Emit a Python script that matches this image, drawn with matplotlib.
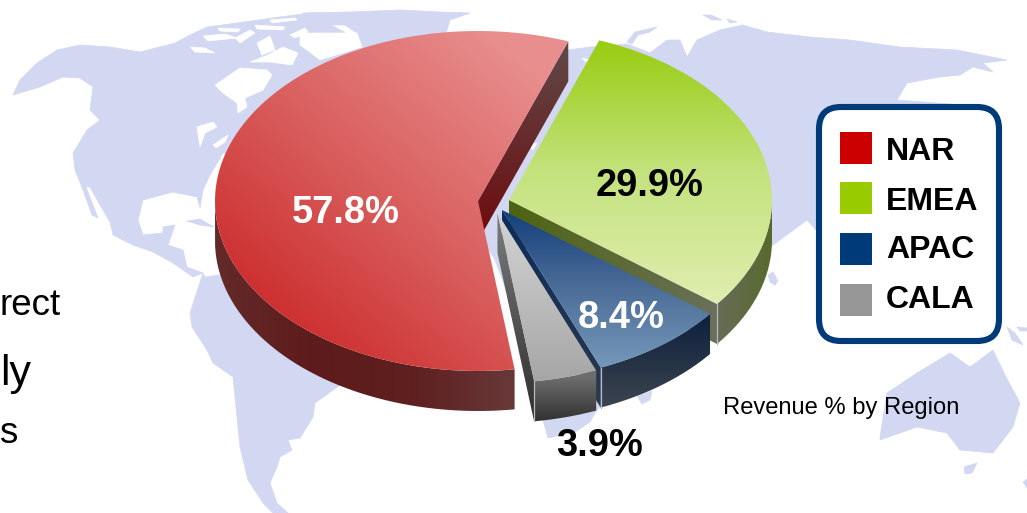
import numpy as np
import matplotlib
matplotlib.use('Agg')
import matplotlib.pyplot as plt
from matplotlib.colors import LinearSegmentedColormap
from matplotlib.patches import FancyBboxPatch, PathPatch, Polygon, Rectangle
from matplotlib.path import Path

regions = ['NAR', 'EMEA', 'APAC', 'CALA']
shares = [57.8, 29.9, 8.4, 3.9]
legend_colors = ['#cc0000', '#99cc00', '#003a78', '#969696']
caption = 'Revenue % by Region'
cut_off_text = ['rect', 'ly', 's']

W, H = 1027, 513
RX, RY, DEPTH = 263, 170, 40
START = 172
FONT = 'Liberation Sans'
MAP = '#d2d7f2'

centers = {'NAR': (478, 201), 'EMEA': (509, 200), 'APAC': (502, 210), 'CALA': (497.5, 213)}
label_pos = {'NAR': (346, 213, 'white'), 'EMEA': (650, 186, 'black'),
             'APAC': (621, 318, 'white'), 'CALA': (600, 446, 'black')}

# gradient start point, end point, colours
top_style = {
    'NAR': ((270, 335), (520, 55), ['#cc2a2a', '#d9605f', '#e98e8e']),
    'EMEA': ((0, 40), (0, 305), ['#98cc10', '#c4e27e', '#e0eeb0']),
    'APAC': ((0, 210), (0, 367), ['#14407c', '#4c6d98', '#7498ba']),
    'CALA': ((0, 213), (0, 381), ['#d4d4d4', '#a6a6a6']),
}
side_style = {
    'NAR': ((215, 0), (514, 0), ['#642a2a', '#5e1b1b', '#5f2020', '#683838']),
    'EMEA': ((773, 0), (717, 0), ['#566a2c', '#686c58']),
    'APAC': ((0, 320), (0, 407), ['#10223f', '#3c444e']),
    'CALA': ((0, 378), (0, 420), ['#6c6c6c', '#333333']),
}
wall_style = {
    'NAR': ((0, 41), (0, 235), ['#604a4a', '#6e0c0e']),
    'EMEA': ((509, 0), (717, 0), ['#4e6410', '#6a705a']),
    'APAC': ((0, 210), (0, 407), ['#0c2c5c', '#2c3a4c']),
    'CALA': ((0, 213), (0, 421), ['#7c7c7c', '#2e2e2e']),
}
draw_order = ['EMEA', 'APAC', 'CALA', 'NAR']

land = [
    # north america
    [(13, 95), (20, 80), (37, 63), (57, 50), (80, 45), (110, 47), (140, 52), (175, 43), (190, 35),
     (207, 27), (237, 23), (280, 17), (310, 13), (340, 30), (400, 60), (300, 180), (223, 153), (210, 175),
     (203, 190), (200, 208), (197, 197), (173, 192), (143, 200), (138, 220), (143, 235), (163, 233),
     (163, 227), (175, 225), (168, 245), (183, 250), (187, 267), (203, 273), (193, 277), (173, 263),
     (153, 252), (133, 245), (113, 235), (110, 222), (100, 205), (90, 187), (86, 187), (98, 218),
     (92, 215), (83, 190), (75, 170), (73, 153), (87, 130), (100, 120), (90, 110), (93, 87), (80, 78),
     (63, 77), (40, 87)],
    # south america
    [(203, 273), (205, 277), (240, 272), (340, 385), (315, 403), (313, 417), (300, 438), (288, 440),
     (292, 450), (280, 457), (277, 467), (270, 483), (277, 503), (288, 513), (273, 513), (263, 503),
     (248, 480), (240, 447), (237, 417), (233, 377), (213, 363), (207, 350), (192, 327), (190, 313)],
    # greenland
    [(303, 13), (350, 12), (400, 10), (440, 12), (470, 13), (450, 20), (447, 30), (440, 60), (350, 60),
     (357, 33), (345, 25), (310, 25)],
    # eurasia and africa
    [(568, 50), (590, 47), (627, 44), (650, 53), (667, 40), (680, 40), (687, 57), (697, 40), (720, 30),
     (743, 25), (767, 32), (810, 37), (850, 40), (900, 47), (957, 50), (1007, 60), (983, 63), (993, 72),
     (973, 67), (960, 75), (940, 77), (907, 83), (897, 100), (977, 106), (930, 200), (816, 230),
     (807, 220), (773, 245), (700, 330), (680, 340), (640, 370), (597, 410), (590, 422), (575, 432),
     (548, 438), (543, 420), (530, 380), (510, 300), (495, 260), (480, 235), (470, 200), (470, 100)],
    # australia, tasmania
    [(880, 437), (887, 393), (917, 373), (950, 353), (970, 367), (993, 350), (1005, 375), (1020, 403),
     (1013, 427), (993, 453), (960, 450), (947, 433), (917, 427), (880, 440)],
    [(964, 467), (977, 463), (972, 473), (965, 474)],
    # small islands
    [(768, 275), (773, 272), (778, 281), (775, 285), (770, 282)],
    [(637, 396), (652, 391), (650, 400), (642, 404)],
    [(1007, 327), (1015, 333), (1023, 345), (1012, 340)],
    [(1017, 327), (1027, 328), (1027, 331), (1020, 331)],
    [(1023, 482), (1027, 479), (1027, 488)],
    [(703, 15), (711, 15), (722, 20), (712, 20)],
    [(727, 19), (737, 22), (730, 23)],
    [(627, 42), (635, 32), (657, 27), (650, 32), (638, 35), (632, 44)],
    [(187, 221), (200, 219), (214, 227), (200, 225)],
]
land_holes = [
    # hudson bay
    [(215, 85), (240, 68), (267, 70), (272, 75), (263, 90), (245, 98), (247, 107), (238, 113),
     (237, 103), (223, 93)],
    # baffin bay
    [(300, 33), (357, 33), (362, 47), (320, 60), (310, 52), (300, 45)],
    # foxe basin and gaps between the arctic islands
    [(250, 62), (268, 55), (283, 47), (298, 53), (292, 65), (270, 62)],
    [(203, 36), (225, 34), (237, 38), (208, 41)],
    [(235, 38), (250, 30), (255, 33), (240, 43)],
    [(218, 28), (240, 29), (238, 32), (220, 31)],
    [(255, 25), (285, 27), (283, 30), (257, 29)],
    [(257, 43), (270, 36), (275, 50), (262, 55)],
    [(190, 47), (205, 48), (215, 53), (195, 52)],
    [(290, 35), (305, 28), (308, 32), (295, 38)],
    [(270, 20), (295, 18), (297, 20), (272, 23)],
    # great lakes
    [(197, 127), (213, 122), (217, 127), (205, 133), (200, 147)],
    [(213, 145), (228, 135), (225, 142), (216, 148)],
    # north sea gaps
    [(528, 145), (537, 143), (533, 150)],
    [(582, 58), (590, 60), (586, 62)],
]


def ring_points(center, a0, a1, n=200):
    t = np.radians(np.linspace(a0, a1, n))
    return np.column_stack([center[0] + RX * np.sin(t), center[1] - RY * np.cos(t)])


def gradient_fill(ax, points, style, zorder):
    p0, p1, colors = style
    p0, p1 = np.array(p0, float), np.array(p1, float)
    d = p1 - p0
    xx, yy = np.meshgrid(np.arange(W) + 0.5, np.arange(H) + 0.5)
    t = ((xx - p0[0]) * d[0] + (yy - p0[1]) * d[1]) / (d @ d)
    cmap = LinearSegmentedColormap.from_list('g', colors)
    im = ax.imshow(np.clip(t, 0, 1), cmap=cmap, vmin=0, vmax=1, extent=(0, W, H, 0),
                   aspect='auto', zorder=zorder, interpolation='bilinear')
    clip = PathPatch(Path(np.vstack([points, points[:1]])), transform=ax.transData)
    im.set_clip_path(clip)


fig = plt.figure(figsize=(W / 100, H / 100), dpi=100)
ax = fig.add_axes([0, 0, 1, 1])

for shape in land:
    ax.add_patch(Polygon(shape, closed=True, fc=MAP, ec=MAP, lw=0.5, zorder=1))
for shape in land_holes:
    ax.add_patch(Polygon(shape, closed=True, fc='white', ec='white', lw=0.5, zorder=1.5))

# slice angles, clockwise from the top of the ellipse
sweeps = np.array(shares) / sum(shares) * 360
ends = START + np.cumsum(sweeps)
starts = ends - sweeps
angles = {r: (a, b) for r, a, b in zip(regions, starts, ends)}

z = 2
for r in draw_order:
    a0, a1 = angles[r]
    c = centers[r]
    shift = np.array([0, DEPTH])

    # outer rim, only the part facing the viewer
    base = a0 % 360
    lo, hi = max(base, 90), min(base + (a1 - a0), 270)
    if hi > lo:
        rim = ring_points(c, lo, hi)
        gradient_fill(ax, np.vstack([rim, (rim + shift)[::-1]]), side_style[r], z)
        z += 1

    # cut face at the clockwise end of the slice
    tip = np.array(c, float)
    edge = ring_points(c, a1, a1, 1)[0]
    wall = np.array([tip, edge, edge + shift, tip + shift])
    gradient_fill(ax, wall, wall_style[r], z)
    z += 1
    if r != 'NAR':
        ax.plot([edge[0], edge[0]], [edge[1], edge[1] + DEPTH], color='#b4bac8', lw=0.9, zorder=z)
        z += 1

    top = np.vstack([[tip], ring_points(c, a0, a1)])
    gradient_fill(ax, top, top_style[r], z)
    z += 1

for r, s in zip(regions, shares):
    x, y, col = label_pos[r]
    ax.text(x, y, f'{s}%', color=col, fontsize=27.4, fontweight='bold', family=FONT,
            ha='center', va='center', zorder=z)

# legend
ax.add_patch(FancyBboxPatch((819, 107), 180, 234, boxstyle='round,pad=0,rounding_size=22',
                            fc='white', ec='#003a78', lw=4.4, zorder=z))
legend_y = [148, 198, 249, 300]
text_y = [148, 198, 247, 297]
for r, col, y, ty in zip(regions, legend_colors, legend_y, text_y):
    ax.add_patch(Rectangle((840, y - 16), 32, 32, fc=col, ec='none', zorder=z + 1))
    ax.text(886, ty, r, fontsize=23, fontweight='bold', family=FONT,
            ha='left', va='center_baseline', zorder=z + 1)

ax.text(723, 414, caption, fontsize=17.1, family=FONT, ha='left', va='baseline', zorder=z)

# text running off the left edge
for txt, x, y, size in zip(cut_off_text, [61, 31, 17], [315, 385, 443], [26.5, 31, 26.5]):
    ax.text(x, y, txt, fontsize=size, family=FONT, ha='right', va='baseline', color='black', zorder=z)

ax.set_xlim(0, W)
ax.set_ylim(H, 0)
ax.axis('off')
fig.savefig('out.png', dpi=100)
plt.close(fig)
